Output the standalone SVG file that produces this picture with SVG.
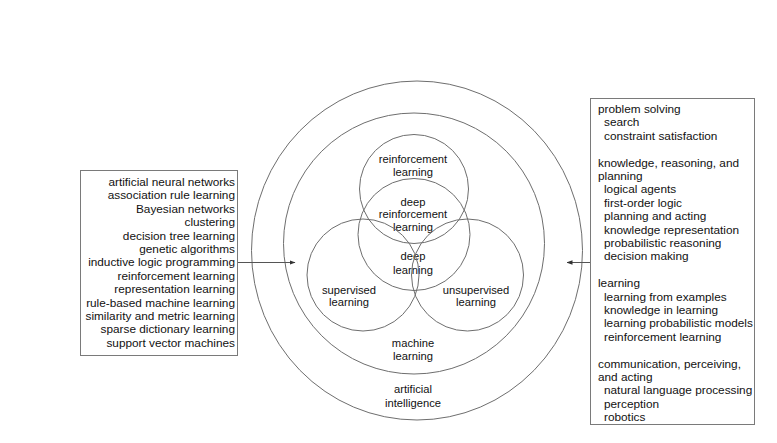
<svg xmlns="http://www.w3.org/2000/svg" width="777" height="443" viewBox="0 0 777 443">
  <defs>
    <marker id="arrow" viewBox="0 0 6 6" refX="5.5" refY="3" markerWidth="6" markerHeight="6" markerUnits="userSpaceOnUse" orient="auto">
      <path d="M0,0.8 L6,3 L0,5.2 Z" fill="#333"/>
    </marker>
  </defs>
  <style>
    .ring { fill: none; stroke: #6e6e6e; stroke-width: 1; }
    .box { fill: #fff; stroke: #7a7a7a; stroke-width: 1; }
    .edge { fill: none; stroke: #555; stroke-width: 1; }
    text { font-family: "Liberation Sans", Arial, sans-serif; fill: #111; }
    .lbl { font-size: 11.2px; text-anchor: middle; }
    .lst { font-size: 11.8px; }
    .rt { text-anchor: end; }
  </style>
  <rect width="777" height="443" fill="#fff"/>

  <!-- nested fields -->
  <g id="artificial-intelligence">
    <ellipse class="ring" cx="417" cy="250.5" rx="165.5" ry="169.5"/>
    <text class="lbl" x="413" y="393">artificial</text>
    <text class="lbl" x="413" y="406.5">intelligence</text>
  </g>
  <g id="machine-learning">
    <circle class="ring" cx="414" cy="243.5" r="130.5"/>
    <text class="lbl" x="413" y="346.5">machine</text>
    <text class="lbl" x="413" y="360">learning</text>
  </g>

  <!-- overlapping learning paradigms -->
  <g id="reinforcement-learning">
    <circle class="ring" cx="414" cy="189" r="54.5"/>
    <text class="lbl" x="413" y="163">reinforcement</text>
    <text class="lbl" x="413" y="175.5">learning</text>
  </g>
  <g id="deep-learning">
    <circle class="ring" cx="414" cy="234.5" r="56"/>
    <text class="lbl" x="413" y="205.5">deep</text>
    <text class="lbl" x="413" y="218">reinforcement</text>
    <text class="lbl" x="413" y="231">learning</text>
    <text class="lbl" x="413" y="260">deep</text>
    <text class="lbl" x="413" y="273.5">learning</text>
  </g>
  <g id="supervised-learning">
    <circle class="ring" cx="363" cy="275" r="56"/>
    <text class="lbl" x="349" y="294">supervised</text>
    <text class="lbl" x="349" y="305.5">learning</text>
  </g>
  <g id="unsupervised-learning">
    <circle class="ring" cx="467.5" cy="275" r="56"/>
    <text class="lbl" x="476" y="294">unsupervised</text>
    <text class="lbl" x="476" y="305.5">learning</text>
  </g>

  <!-- machine learning methods -->
  <g id="ml-methods">
    <rect class="box" x="80.5" y="170.5" width="157" height="185"/>
    <g class="lst rt">
      <text x="235" y="186">artificial neural networks</text>
      <text x="235" y="199.4">association rule learning</text>
      <text x="235" y="212.8">Bayesian networks</text>
      <text x="235" y="226.2">clustering</text>
      <text x="235" y="239.6">decision tree learning</text>
      <text x="235" y="253">genetic algorithms</text>
      <text x="235" y="266.4">inductive logic programming</text>
      <text x="235" y="279.8">reinforcement learning</text>
      <text x="235" y="293.2">representation learning</text>
      <text x="235" y="306.6">rule-based machine learning</text>
      <text x="235" y="320">similarity and metric learning</text>
      <text x="235" y="333.4">sparse dictionary learning</text>
      <text x="235" y="346.8">support vector machines</text>
    </g>
  </g>

  <!-- AI topics -->
  <g id="ai-topics">
    <rect class="box" x="590.5" y="98.5" width="164" height="326"/>
    <g class="lst">
      <text x="598" y="113">problem solving</text>
      <text x="604" y="126.4">search</text>
      <text x="604" y="139.8">constraint satisfaction</text>
      <text x="598" y="166.6">knowledge, reasoning, and</text>
      <text x="598" y="180">planning</text>
      <text x="604" y="193.4">logical agents</text>
      <text x="604" y="206.8">first-order logic</text>
      <text x="604" y="220.2">planning and acting</text>
      <text x="604" y="233.6">knowledge representation</text>
      <text x="604" y="247">probabilistic reasoning</text>
      <text x="604" y="260.4">decision making</text>
      <text x="598" y="287.2">learning</text>
      <text x="604" y="300.6">learning from examples</text>
      <text x="604" y="314">knowledge in learning</text>
      <text x="604" y="327.4">learning probabilistic models</text>
      <text x="604" y="340.8">reinforcement learning</text>
      <text x="598" y="367.6">communication, perceiving,</text>
      <text x="598" y="381">and acting</text>
      <text x="604" y="394.4">natural language processing</text>
      <text x="604" y="407.8">perception</text>
      <text x="604" y="421.2">robotics</text>
    </g>
  </g>

  <!-- connectors -->
  <g id="connectors">
    <line class="edge" x1="238" y1="262.5" x2="295" y2="262.5" marker-end="url(#arrow)"/>
    <line class="edge" x1="590" y1="262.5" x2="567" y2="262.5" marker-end="url(#arrow)"/>
  </g>
</svg>
